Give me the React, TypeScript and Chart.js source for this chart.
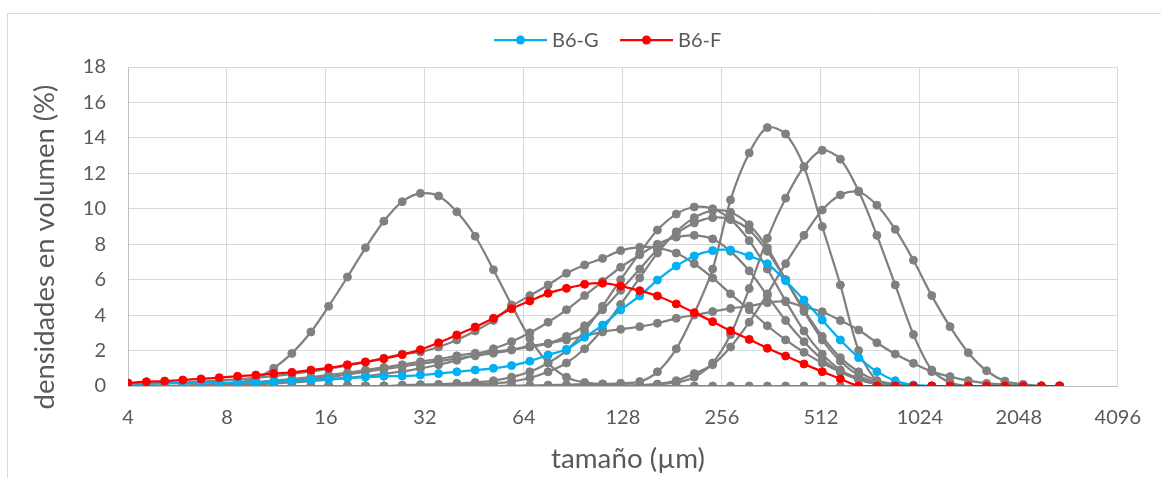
import React, { useEffect, useRef } from "react";
import { Chart, registerables } from "chart.js";

Chart.register(...registerables);

// particle size classes (µm)
const sizes = [4.0, 4.55, 5.17, 5.87, 6.67, 7.58, 8.62, 9.79, 11.1, 12.6, 14.4, 16.3, 18.6, 21.1, 24.0, 27.3, 31.0, 35.2, 40.0, 45.5, 51.7, 58.7, 66.7, 75.8, 86.2, 97.9, 111, 126, 144, 163, 186, 211, 240, 272, 310, 352, 400, 455, 517, 587, 667, 758, 862, 979, 1113, 1265, 1438, 1634, 1857, 2110, 2398, 2725];

const xTickValues = [4, 8, 16, 32, 64, 128, 256, 512, 1024, 2048, 4096];

const b6g = [0.15, 0.15, 0.16, 0.17, 0.18, 0.19, 0.2, 0.22, 0.25, 0.3, 0.34, 0.4, 0.45, 0.5, 0.55, 0.56, 0.62, 0.7, 0.8, 0.9, 1.0, 1.15, 1.4, 1.75, 2.07, 2.75, 3.44, 4.29, 5.08, 5.98, 6.77, 7.34, 7.64, 7.67, 7.34, 6.9, 5.94, 4.85, 3.72, 2.6, 1.6, 0.81, 0.3, 0.06, 0, 0, 0, 0, 0, 0, 0, 0];

const b6f = [0.17, 0.24, 0.28, 0.34, 0.4, 0.47, 0.55, 0.62, 0.7, 0.77, 0.9, 1.02, 1.2, 1.36, 1.54, 1.77, 2.05, 2.44, 2.88, 3.33, 3.82, 4.36, 4.8, 5.23, 5.51, 5.74, 5.8, 5.64, 5.38, 5.08, 4.63, 4.14, 3.63, 3.12, 2.63, 2.13, 1.69, 1.24, 0.81, 0.4, 0, 0, 0, 0, 0, 0, 0, 0, 0, 0, 0, 0];

const grayFine = [0, 0, 0, 0.02, 0.05, 0.1, 0.2, 0.4, 1.0, 1.84, 3.05, 4.5, 6.15, 7.8, 9.3, 10.4, 10.87, 10.72, 9.83, 8.45, 6.56, 4.57, 2.69, 1.3, 0.5, 0.2, 0.1, 0.05, 0, 0, 0, 0, 0, 0, 0, 0, 0, 0, 0, 0, 0, 0, 0, 0, 0, 0, 0, 0, 0, 0, 0, 0];

const grayTall = [0, 0, 0, 0, 0, 0, 0, 0, 0, 0, 0, 0, 0, 0, 0, 0, 0, 0, 0, 0, 0, 0.02, 0.03, 0.05, 0.07, 0.1, 0.12, 0.15, 0.25, 0.8, 2.1, 4.1, 6.6, 10.5, 13.15, 14.58, 14.22, 12.37, 9.0, 5.7, 2.0, 0.3, 0, 0, 0, 0, 0, 0, 0, 0, 0, 0];

const grayPeak512 = [0, 0, 0, 0, 0, 0, 0, 0, 0, 0, 0, 0, 0, 0, 0, 0, 0, 0, 0, 0, 0, 0, 0, 0, 0, 0, 0, 0, 0.05, 0.1, 0.2, 0.5, 1.3, 2.9, 5.5, 8.33, 10.6, 12.37, 13.3, 12.8, 11.0, 8.5, 5.7, 2.9, 0.9, 0.2, 0, 0, 0, 0, 0, 0];

const grayPeak700 = [0, 0, 0, 0, 0, 0, 0, 0, 0, 0, 0, 0, 0, 0, 0, 0, 0, 0, 0, 0, 0, 0, 0, 0, 0, 0, 0, 0, 0, 0.1, 0.3, 0.7, 1.2, 2.2, 3.6, 5.2, 6.9, 8.5, 9.93, 10.78, 10.96, 10.2, 8.84, 7.1, 5.1, 3.35, 1.88, 0.86, 0.28, 0.1, 0, 0];

const grayFlat = [0, 0, 0, 0, 0.02, 0.05, 0.1, 0.15, 0.2, 0.3, 0.4, 0.5, 0.65, 0.8, 0.95, 1.1, 1.25, 1.4, 1.55, 1.7, 1.85, 2.03, 2.26, 2.4, 2.6, 2.82, 3.05, 3.2, 3.35, 3.54, 3.82, 4.0, 4.2, 4.38, 4.51, 4.7, 4.76, 4.45, 4.19, 3.69, 3.16, 2.44, 1.8, 1.28, 0.81, 0.53, 0.3, 0.15, 0.1, 0.05, 0, 0];

const grayBroad = [0.1, 0.12, 0.15, 0.2, 0.25, 0.3, 0.38, 0.46, 0.56, 0.68, 0.82, 0.98, 1.15, 1.35, 1.57, 1.8, 1.92, 2.2, 2.6, 3.1, 3.7, 4.5, 5.1, 5.7, 6.36, 6.83, 7.2, 7.64, 7.83, 7.8, 7.5, 6.9, 6.1, 5.2, 4.3, 3.4, 2.6, 1.9, 1.3, 0.8, 0.45, 0.2, 0.1, 0, 0, 0, 0, 0, 0, 0, 0, 0];

const grayPeak210 = [0, 0, 0, 0, 0, 0, 0, 0, 0, 0, 0, 0, 0, 0, 0, 0.05, 0.08, 0.1, 0.15, 0.2, 0.3, 0.5, 0.8, 1.3, 2.0, 3.1, 4.5, 6.0, 7.5, 8.8, 9.7, 10.1, 10.0, 9.4, 8.2, 6.6, 4.8, 3.1, 1.8, 0.9, 0.4, 0.1, 0, 0, 0, 0, 0, 0, 0, 0, 0, 0];

const grayPeak240 = [0, 0, 0, 0, 0, 0, 0, 0, 0, 0, 0, 0, 0, 0, 0, 0, 0, 0, 0.05, 0.1, 0.15, 0.25, 0.45, 0.8, 1.3, 2.1, 3.2, 4.6, 6.1, 7.5, 8.7, 9.5, 9.9, 9.8, 9.1, 7.8, 6.0, 4.2, 2.6, 1.4, 0.6, 0.2, 0.05, 0, 0, 0, 0, 0, 0, 0, 0, 0];

const grayWide85 = [0, 0, 0, 0, 0, 0, 0.05, 0.1, 0.15, 0.2, 0.28, 0.36, 0.45, 0.56, 0.68, 0.82, 1.0, 1.2, 1.45, 1.75, 2.1, 2.5, 3.0, 3.6, 4.3, 5.1, 5.9, 6.7, 7.4, 8.0, 8.4, 8.5, 8.3, 7.6, 6.5, 5.1, 3.7, 2.5, 1.5, 0.8, 0.35, 0.1, 0, 0, 0, 0, 0, 0, 0, 0, 0, 0];

const grayWide95 = [0, 0, 0, 0, 0.05, 0.1, 0.15, 0.22, 0.3, 0.4, 0.5, 0.62, 0.75, 0.9, 1.05, 1.2, 1.37, 1.52, 1.7, 1.85, 1.94, 2.05, 2.2, 2.4, 2.8, 3.4, 4.3, 5.4, 6.6, 7.7, 8.6, 9.2, 9.5, 9.4, 8.8, 7.6, 6.0, 4.3, 2.8, 1.6, 0.8, 0.3, 0.1, 0, 0, 0, 0, 0, 0, 0, 0, 0];

const graySeries = [grayFine, grayTall, grayPeak512, grayPeak700, grayFlat, grayBroad, grayPeak210, grayPeak240, grayWide85, grayWide95];

const seriesLabels = ["B6-G", "B6-F"];
const xTitle = "tamaño (µm)";
const yTitle = "densidades en volumen (%)";

const BLUE = "#00b0f0";
const RED = "#ff0000";
const GRAY = "#808080";
const TEXT = "#595959";
const GRID = "#d9d9d9";
const AXIS = "#bfbfbf";
const FONT = "Lato, 'Open Sans', sans-serif";

const toPoints = (vals: number[]) => vals.map((v, i) => ({ x: sizes[i], y: v }));

function fitFont(ctx: CanvasRenderingContext2D, text: string, target: number) {
  ctx.font = `20px ${FONT}`;
  const w = ctx.measureText(text).width;
  return (20 * target) / w;
}

const decorPlugin = {
  id: "decor",
  beforeDraw(chart: any) {
    const ctx = chart.ctx as CanvasRenderingContext2D;
    ctx.save();
    ctx.strokeStyle = GRID;
    ctx.lineWidth = 1;
    ctx.beginPath();
    ctx.moveTo(7.5, 2000);
    ctx.lineTo(7.5, 13.5);
    ctx.lineTo(3000, 13.5);
    ctx.stroke();
    ctx.restore();
  },
  afterDraw(chart: any) {
    const ctx = chart.ctx as CanvasRenderingContext2D;
    ctx.save();
    const items = [
      { label: seriesLabels[0], color: BLUE, x0: 494 },
      { label: seriesLabels[1], color: RED, x0: 620 },
    ];
    const ly = 40;
    items.forEach((it) => {
      ctx.strokeStyle = it.color;
      ctx.lineWidth = 2.25;
      ctx.beginPath();
      ctx.moveTo(it.x0, ly);
      ctx.lineTo(it.x0 + 53, ly);
      ctx.stroke();
      ctx.fillStyle = it.color;
      ctx.beginPath();
      ctx.arc(it.x0 + 26.5, ly, 4.5, 0, Math.PI * 2);
      ctx.fill();
      ctx.fillStyle = TEXT;
      ctx.font = `20px ${FONT}`;
      ctx.textAlign = "left";
      ctx.textBaseline = "middle";
      ctx.fillText(it.label, it.x0 + 58, ly + 1);
    });
    const xs = fitFont(ctx, xTitle, 154);
    ctx.font = `${xs}px ${FONT}`;
    ctx.fillStyle = TEXT;
    ctx.textAlign = "center";
    ctx.textBaseline = "middle";
    ctx.fillText(xTitle, 628, 459);
    const ys = fitFont(ctx, yTitle, 325);
    ctx.translate(45, 247);
    ctx.rotate(-Math.PI / 2);
    ctx.font = `${ys}px ${FONT}`;
    ctx.fillText(yTitle, 0, 0);
    ctx.restore();
  },
};

export default function App() {
  const ref = useRef<HTMLCanvasElement | null>(null);
  useEffect(() => {
    if (!ref.current) return;
    const datasets: any[] = [
      { label: seriesLabels[0], data: toPoints(b6g), borderColor: BLUE, backgroundColor: BLUE, order: 1 },
      { label: seriesLabels[1], data: toPoints(b6f), borderColor: RED, backgroundColor: RED, order: 0 },
      ...graySeries.map((s, k) => ({
        label: "g" + k,
        data: toPoints(s),
        borderColor: GRAY,
        backgroundColor: GRAY,
        order: 2,
      })),
    ];
    const chart = new Chart(ref.current, {
      type: "line",
      data: { datasets },
      options: {
        animation: false,
        responsive: true,
        maintainAspectRatio: false,
        layout: { padding: { left: 0, top: 67, right: 31, bottom: 0 } },
        elements: {
          line: { borderWidth: 2.25, tension: 0.3 },
          point: { radius: 4, borderWidth: 1, hoverRadius: 4 },
        },
        plugins: {
          legend: { display: false },
          title: { display: false },
          tooltip: { enabled: false },
        },
        scales: {
          x: {
            type: "logarithmic",
            min: 4,
            max: 4096,
            afterBuildTicks: (scale: any) => {
              scale.ticks = xTickValues.map((v) => ({ value: v }));
            },
            afterFit: (scale: any) => {
              scale.height = 92;
            },
            grid: { color: GRID, drawTicks: false, lineWidth: 1 },
            border: { color: AXIS, width: 1 },
            ticks: {
              autoSkip: false,
              maxRotation: 0,
              minRotation: 0,
              padding: 20,
              color: TEXT,
              font: { family: FONT, size: 20 },
              callback: (v: any) => String(v),
            },
          },
          y: {
            type: "linear",
            min: 0,
            max: 18,
            afterFit: (scale: any) => {
              scale.width = 128;
            },
            grid: { color: GRID, drawTicks: false, lineWidth: 1 },
            border: { color: AXIS, width: 1 },
            ticks: {
              stepSize: 2,
              padding: 22,
              color: TEXT,
              font: { family: FONT, size: 20 },
            },
          },
        },
      },
      plugins: [decorPlugin],
    });
    return () => chart.destroy();
  }, []);
  return (
    <div style={{ position: "fixed", left: 0, top: 0, width: 1161, height: 478, background: "#fff", overflow: "hidden" }}>
      <canvas ref={ref} />
    </div>
  );
}
